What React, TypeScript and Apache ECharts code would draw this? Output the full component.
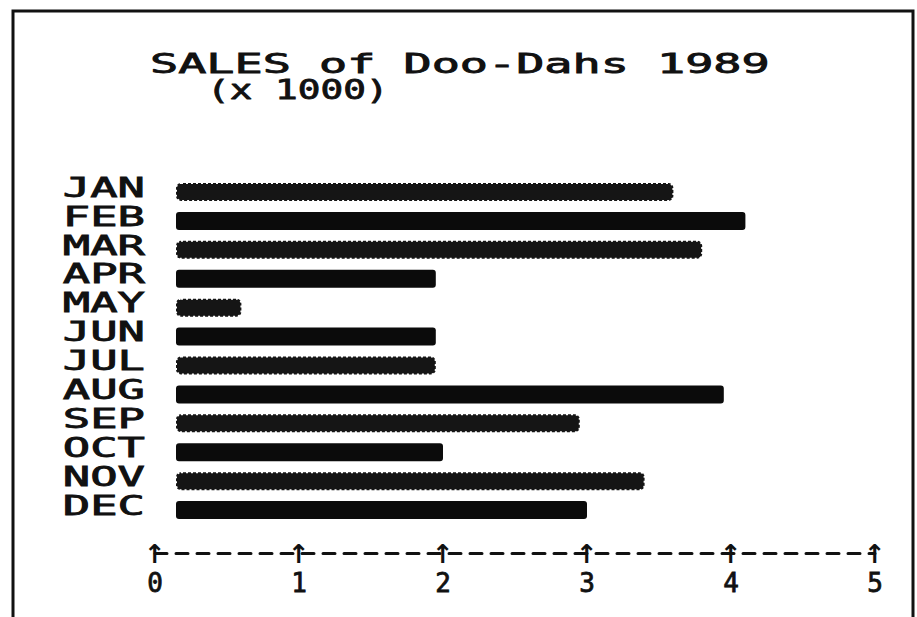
import React, { useEffect, useRef } from "react";
import * as echarts from "echarts";

const months = ["JAN", "FEB", "MAR", "APR", "MAY", "JUN", "JUL", "AUG", "SEP", "OCT", "NOV", "DEC"];
const sales = [3.6, 4.1, 3.8, 1.95, 0.6, 1.95, 1.95, 3.95, 2.95, 2.0, 3.4, 3.0];
const xTicks = [0, 1, 2, 3, 4, 5];
const titleText = "SALES of Doo-Dahs 1989";
const subtitleText = "(x 1000)";

const MONO = '"DejaVu Sans Mono", monospace';

export default function App() {
  const ref = useRef<HTMLDivElement>(null);
  useEffect(() => {
    if (!ref.current) return;
    const chart = echarts.init(ref.current, null, { renderer: "svg" });
    chart.setOption({
      animation: false,
      backgroundColor: "#ffffff",
      grid: { left: 155, right: 42, top: 173.5, bottom: 96.5, containLabel: false },
      xAxis: {
        type: "value",
        min: xTicks[0],
        max: xTicks[xTicks.length - 1],
        interval: 1,
        position: "bottom",
        offset: 33,
        splitLine: { show: false },
        axisTick: { show: false },
        axisLine: { show: true, lineStyle: { color: "#111", width: 3, type: [12, 9] } },
        axisLabel: {
          margin: -14,
          formatter: (v: number) => `{a|↑}\n{b|${v}}`,
          rich: {
            a: { fontFamily: '"DejaVu Sans", sans-serif', fontSize: 26, lineHeight: 28, color: "#111", fontWeight: "bold" },
            b: { fontFamily: MONO, fontSize: 26, lineHeight: 28, padding: [3, 0, 0, 0], color: "#111", textBorderColor: "#111", textBorderWidth: 0.8 },
          },
        },
      },
      yAxis: {
        type: "category",
        data: months,
        inverse: true,
        axisLine: { show: false },
        axisTick: { show: false },
        axisLabel: { show: false },
        splitLine: { show: false },
      },
      graphic: [
        {
          type: "rect",
          shape: { x: 13, y: 11, width: 900, height: 700 },
          style: { fill: "none", stroke: "#111", lineWidth: 3 },
          silent: true,
        },
        {
          type: "text",
          x: 150,
          y: 64,
          scaleX: 1.8,
          style: { text: titleText, fontFamily: MONO, fontSize: 26, fill: "#111", verticalAlign: "middle", align: "left", stroke: "#111", lineWidth: 0.8 },
        },
        {
          type: "text",
          x: 207,
          y: 90,
          scaleX: 1.45,
          style: { text: subtitleText, fontFamily: MONO, fontSize: 26, fill: "#111", verticalAlign: "middle", align: "left", stroke: "#111", lineWidth: 0.8 },
        },
      ],
      series: [
        {
          type: "custom",
          clip: false,
          encode: { x: 0, y: 1 },
          data: sales.map((v, i) => [v, months[i]]),
          renderItem: (params: any, api: any) => {
            const v = api.value(0);
            const ci = api.value(1);
            const p0 = api.coord([0, ci]);
            const p1 = api.coord([v, ci]);
            const x0 = p0[0] + 21;
            const h = 18;
            const yc = p0[1] + 4;
            const hatched = params.dataIndex % 2 === 0;
            return {
              type: "group",
              children: [
                {
                  type: "rect",
                  shape: { x: x0, y: yc - h / 2, width: p1[0] - x0, height: h, r: hatched ? 5 : 3 },
                  style: hatched
                    ? { fill: "#151515", stroke: "#ffffff", lineWidth: 2, lineDash: [2, 3] }
                    : { fill: "#0b0b0b" },
                },
                {
                  type: "text",
                  x: p0[0] - 10,
                  y: p0[1],
                  scaleX: 1.75,
                  style: {
                    text: months[params.dataIndex],
                    fontFamily: MONO,
                    fontSize: 26,
                    fill: "#111",
                    align: "right",
                    verticalAlign: "middle",
                    stroke: "#111",
                    lineWidth: 0.8,
                  },
                },
              ],
            };
          },
        },
      ],
    });
    return () => chart.dispose();
  }, []);
  return (
    <div
      ref={ref}
      style={{ position: "fixed", left: 0, top: 0, width: 917, height: 617, background: "#fff" }}
    />
  );
}
